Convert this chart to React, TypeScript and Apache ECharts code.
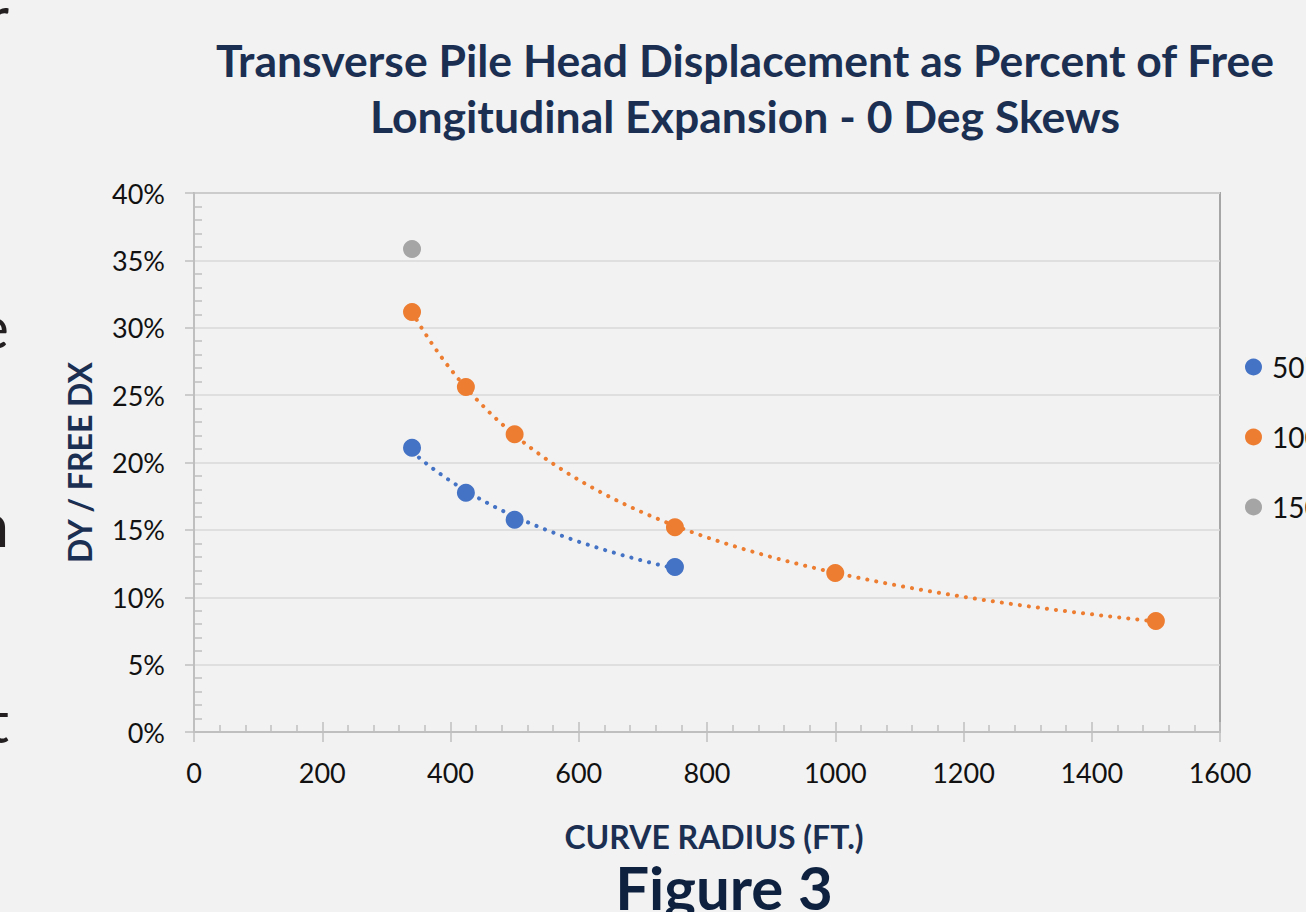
import React, { useEffect, useRef } from "react";
import * as echarts from "echarts";

const titleLines = [
  "Transverse Pile Head Displacement as Percent of Free",
  "Longitudinal Expansion - 0 Deg Skews",
];
const xAxisName = "CURVE RADIUS (FT.)";
const yAxisName = "DY / FREE DX";
const figureCaption = "Figure 3";

const seriesNames = ["50'", "100'", "150'"];
const seriesColors = ["#4472c4", "#ed7d31", "#a5a5a5"];

const radius50 = [340, 424, 500, 750];
const disp50 = [0.211, 0.1775, 0.1575, 0.1225];
const radius100 = [340, 424, 500, 750, 1000, 1500];
const disp100 = [0.3117, 0.256, 0.221, 0.152, 0.118, 0.0824];
const radius150 = [340];
const disp150 = [0.3584];

const xMin = 0;
const xMax = 1600;
const xStep = 200;
const yMin = 0;
const yMax = 0.4;
const yStep = 0.05;

const leftFragments = ["r", "e", "n", "t"];

const pairs = (xs: number[], ys: number[]) => xs.map((x, i) => [x, ys[i]]);

// Power trendline (least squares on ln x, ln y), as a spreadsheet trendline does
function powerTrend(xs: number[], ys: number[], samples = 80) {
  const n = xs.length;
  const lx = xs.map(Math.log);
  const ly = ys.map(Math.log);
  const mx = lx.reduce((s, v) => s + v, 0) / n;
  const my = ly.reduce((s, v) => s + v, 0) / n;
  let sxy = 0;
  let sxx = 0;
  for (let i = 0; i < n; i++) {
    sxy += (lx[i] - mx) * (ly[i] - my);
    sxx += (lx[i] - mx) * (lx[i] - mx);
  }
  const b = sxy / sxx;
  const a = Math.exp(my - b * mx);
  const x0 = Math.min(...xs);
  const x1 = Math.max(...xs);
  const out: number[][] = [];
  for (let k = 0; k <= samples; k++) {
    const x = x0 + ((x1 - x0) * k) / samples;
    out.push([x, a * Math.pow(x, b)]);
  }
  return out;
}

export default function App() {
  const ref = useRef<HTMLDivElement>(null);
  useEffect(() => {
    if (!ref.current) return;
    const chart = echarts.init(ref.current, null, { renderer: "svg" });
    const axisGray = "#bfbfbf";
    const navy = "#1b2f52";
    const font = "Lato";
    const dataSets = [
      pairs(radius50, disp50),
      pairs(radius100, disp100),
      pairs(radius150, disp150),
    ];
    const trendStyle = (color: string) => ({
      color,
      width: 4,
      type: [0.1, 9] as any,
      cap: "round" as any,
    });
    const fragY = [-14, 296, 494, 690];
    chart.setOption({
      animation: false,
      backgroundColor: "#f2f2f2",
      textStyle: { fontFamily: font },
      title: {
        text: titleLines.join("\n"),
        left: 740,
        top: 26,
        textAlign: "center",
        textStyle: {
          fontFamily: font,
          fontWeight: "bold",
          fontSize: 44.5,
          lineHeight: 56,
          color: navy,
        },
      },
      grid: {
        left: 194,
        right: 86,
        top: 193,
        bottom: 180,
        show: true,
        borderColor: "#a6a6a6",
        borderWidth: 2,
        backgroundColor: "transparent",
      },
      legend: {
        data: seriesNames,
        orient: "vertical",
        left: 1240,
        top: 347,
        itemWidth: 17,
        itemHeight: 17,
        itemGap: 40,
        icon: "circle",
        itemStyle: { opacity: 1 },
        textStyle: {
          fontFamily: font,
          fontSize: 28,
          lineHeight: 30,
          color: "#111",
          padding: [0, 0, 0, 5],
        },
      },
      xAxis: [
        {
          type: "value",
          min: xMin,
          max: xMax,
          interval: xStep,
          name: xAxisName,
          nameLocation: "middle",
          nameGap: 88,
          nameTextStyle: {
            fontFamily: font,
            fontWeight: "bold",
            fontSize: 32,
            color: navy,
            padding: [0, 0, 0, 14],
          },
          axisLine: { show: true, lineStyle: { color: axisGray, width: 2 } },
          axisTick: { show: true, inside: false, length: 10, lineStyle: { color: axisGray, width: 1.5 } },
          axisLabel: {
            fontFamily: font,
            fontSize: 27,
            color: "#111",
            margin: 27,
            formatter: (v: number) => String(v),
          },
          splitLine: { show: false },
        },
        {
          type: "value",
          min: xMin,
          max: xMax,
          interval: xStep,
          position: "bottom",
          axisLine: { show: false },
          axisTick: { show: true, inside: true, length: 10, lineStyle: { color: axisGray, width: 1.5 } },
          minorTick: { show: true, splitNumber: 5, length: 7, lineStyle: { color: axisGray, width: 1.5 } },
          axisLabel: { show: false },
          splitLine: { show: false },
        },
      ],
      yAxis: [
        {
          type: "value",
          min: yMin,
          max: yMax,
          interval: yStep,
          name: yAxisName,
          nameLocation: "middle",
          nameGap: 99,
          nameTextStyle: {
            fontFamily: font,
            fontWeight: "bold",
            fontSize: 32,
            color: navy,
          },
          axisLine: { show: true, lineStyle: { color: axisGray, width: 2 } },
          axisTick: { show: true, inside: false, length: 9, lineStyle: { color: axisGray, width: 1.5 } },
          axisLabel: {
            fontFamily: font,
            fontSize: 27,
            color: "#111",
            margin: 29,
            formatter: (v: number) => `${Math.round(v * 100)}%`,
          },
          splitLine: { show: true, lineStyle: { color: "#d9d9d9", width: 1.5 } },
        },
        {
          type: "value",
          min: yMin,
          max: yMax,
          interval: yStep,
          position: "left",
          axisLine: { show: false },
          axisTick: { show: false, inside: true, length: 8 },
          minorTick: { show: true, splitNumber: 5, length: 8, lineStyle: { color: axisGray, width: 1.5 } },
          axisLabel: { show: false },
          splitLine: { show: false },
        },
      ],
      series: [
        {
          type: "line",
          data: powerTrend(radius50, disp50),
          showSymbol: false,
          symbol: "none",
          lineStyle: trendStyle(seriesColors[0]),
          silent: true,
          z: 2,
        },
        {
          type: "line",
          data: powerTrend(radius100, disp100),
          showSymbol: false,
          symbol: "none",
          lineStyle: trendStyle(seriesColors[1]),
          silent: true,
          z: 2,
        },
        ...seriesNames.map((name, i) => ({
          name,
          type: "scatter",
          data: dataSets[i],
          symbol: "circle",
          symbolSize: 18,
          itemStyle: { color: seriesColors[i], opacity: 1 },
          z: 3,
        })),
      ],
      graphic: [
        {
          type: "text",
          x: 724,
          y: 857,
          style: {
            text: figureCaption,
            fontFamily: font,
            fontWeight: "bold",
            fontSize: 60,
            fill: "#0e2240",
            textAlign: "center",
            textVerticalAlign: "top",
          },
        },
        ...leftFragments.map((ch, i) => ({
          type: "text",
          x: 9,
          y: fragY[i],
          style: {
            text: ch,
            fontFamily: font,
            fontSize: 60,
            fill: "#231f20",
            textAlign: "right",
            textVerticalAlign: "top",
          },
        })),
      ],
    });
    return () => chart.dispose();
  }, []);
  return (
    <div
      ref={ref}
      style={{ position: "absolute", left: 0, top: 0, width: 1306, height: 912, background: "#f2f2f2" }}
    />
  );
}
